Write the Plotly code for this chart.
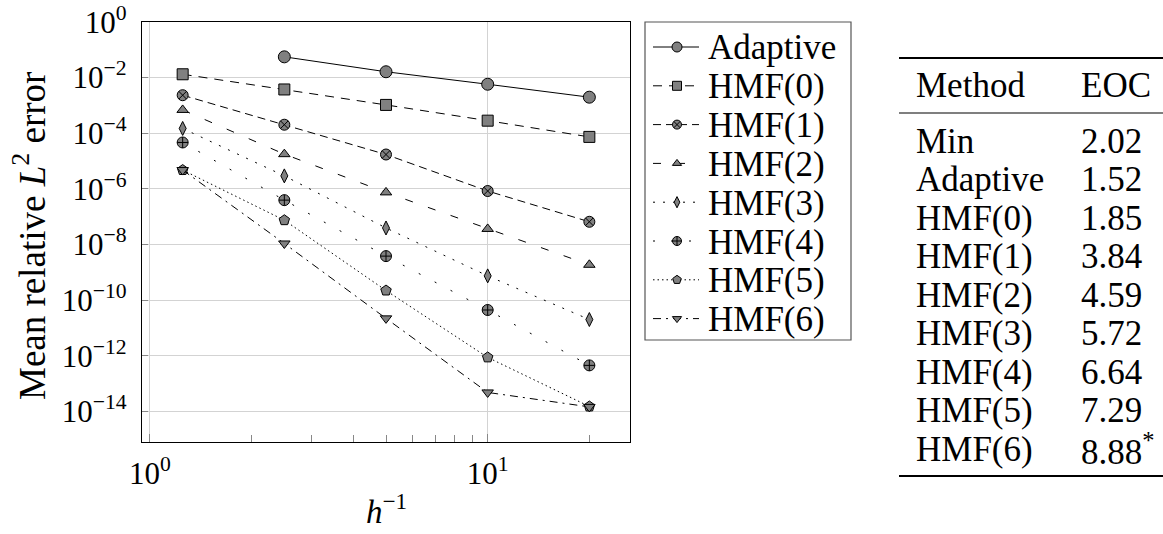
import plotly.graph_objects as go

# Inverse mesh width h^-1 and mean relative L2 errors per method
h_inv = [1.25, 2.5, 5, 10, 20]
adaptive = [None, 5.5e-2, 1.6e-2, 5.7e-3, 1.95e-3]
hmf0 = [1.3e-2, 3.7e-3, 1.03e-3, 2.8e-4, 7.3e-5]
hmf1 = [2.3e-3, 2.0e-4, 1.7e-5, 8.3e-7, 6.5e-8]
hmf2 = [6.8e-4, 1.75e-5, 7.4e-7, 3.6e-8, 1.85e-9]
hmf3 = [1.47e-4, 2.9e-6, 3.9e-8, 7.4e-10, 2.0e-11]
hmf4 = [4.6e-5, 3.9e-7, 3.8e-9, 4.4e-11, 4.5e-13]
hmf5 = [4.7e-6, 7.4e-8, 2.2e-10, 8.7e-13, 1.5e-14]
hmf6 = [4.7e-6, 1.08e-8, 2.2e-11, 4.8e-14, 1.45e-14]

# Experimental orders of convergence
eoc_methods = ["Min", "Adaptive", "HMF(0)", "HMF(1)", "HMF(2)", "HMF(3)",
               "HMF(4)", "HMF(5)", "HMF(6)"]
eoc_values = ["2.02", "1.52", "1.85", "3.84", "4.59", "5.72", "6.64", "7.29",
              "8.88<sup>*</sup>"]

W, H = 1163, 534
SERIF = "Liberation Serif, Times New Roman, serif"
FILL = "#808080"


def px(x):
    return x / W


def py(y):
    return 1 - y / H


series = [
    ("Adaptive", adaptive, "circle", 12, "solid"),
    ("HMF(0)", hmf0, "square", 11, "9px,7px"),
    ("HMF(1)", hmf1, "circle-x", 11, "8px,5px"),
    ("HMF(2)", hmf2, "triangle-up", 10, "8px,16px"),
    ("HMF(3)", hmf3, "diamond-tall", 10, "2px,8px"),
    ("HMF(4)", hmf4, "circle-cross", 11, "2px,16px"),
    ("HMF(5)", hmf5, "pentagon", 11, "1.5px,3px"),
    ("HMF(6)", hmf6, "triangle-down", 10, "8px,5px,2px,5px"),
]

fig = go.Figure()
for name, vals, sym, size, dash in series:
    fig.add_trace(go.Scatter(
        x=h_inv, y=vals, name=name, mode="lines+markers", showlegend=False,
        line=dict(color="black", width=1, dash=dash),
        marker=dict(symbol=sym, size=size, color=FILL,
                    line=dict(color="black", width=1)),
    ))

# Legend box drawn on its own pixel-scaled overlay axes
LEG_L, LEG_R, LEG_T, LEG_B = 645, 851, 22, 340
LEG_ROW0, LEG_STEP = 47, 38.8
LEG_LINE_X = [653, 677, 699]
for i, (name, vals, sym, size, dash) in enumerate(series):
    yi = LEG_ROW0 + i * LEG_STEP
    fig.add_trace(go.Scatter(
        x=[LEG_LINE_X[0], LEG_LINE_X[2]], y=[yi, yi], mode="lines",
        xaxis="x2", yaxis="y2", showlegend=False, hoverinfo="skip",
        line=dict(color="black", width=1, dash=dash),
    ))
    fig.add_trace(go.Scatter(
        x=[LEG_LINE_X[1]], y=[yi], mode="markers",
        xaxis="x2", yaxis="y2", showlegend=False, hoverinfo="skip",
        marker=dict(symbol=sym, size=size - 2, color=FILL,
                    line=dict(color="black", width=1)),
    ))
    fig.add_annotation(x=706, y=yi + 1, xref="x2", yref="y2", text=name,
                       showarrow=False, xanchor="left", yanchor="middle",
                       font=dict(family=SERIF, size=35))

fig.add_shape(type="rect", xref="paper", yref="paper",
              x0=px(LEG_L), x1=px(LEG_R), y0=py(LEG_B), y1=py(LEG_T),
              line=dict(color="#555", width=1.2), fillcolor="rgba(0,0,0,0)")

ytick_exp = [0, -2, -4, -6, -8, -10, -12, -14]
ytick_vals = [10.0 ** e for e in ytick_exp]
ytick_text = ["10<sup>%s</sup>" % (str(e).replace("-", "\u2212")) for e in ytick_exp]

AX_L, AX_R, AX_T, AX_B = 142, 630, 21.7, 442

fig.update_layout(
    width=W, height=H,
    margin=dict(l=0, r=0, t=0, b=0, autoexpand=False),
    paper_bgcolor="white", plot_bgcolor="white",
    font=dict(family=SERIF, color="black", size=30),
    showlegend=False,
    xaxis=dict(
        type="log", domain=[px(AX_L), px(AX_R)], automargin=False,
        range=[-0.0235, 1.4214],
        tickvals=[1, 10], ticktext=["10<sup>0</sup>", "10<sup>1</sup>"],
        ticks="inside", ticklen=8, tickcolor="#888", tickwidth=1,
        ticklabelstandoff=4,
        showgrid=True, gridcolor="#d3d3d3", gridwidth=1,
        showline=True, linecolor="black", linewidth=1.4, mirror=True,
        zeroline=False,
        minor=dict(tickmode="array", tickvals=[2, 3, 4, 5, 6, 7, 8, 9, 20],
                   ticks="inside", ticklen=7, tickcolor="#888", showgrid=False),
        tickfont=dict(family=SERIF, size=31),
    ),
    yaxis=dict(
        type="log", domain=[py(AX_B), py(AX_T)], automargin=False,
        range=[-15.1, 0.003],
        tickvals=ytick_vals, ticktext=ytick_text,
        ticks="inside", ticklen=6, tickcolor="#888", tickwidth=1,
        ticklabelstandoff=8,
        showgrid=True, gridcolor="#d3d3d3", gridwidth=1,
        showline=True, linecolor="black", linewidth=1.4, mirror=True,
        zeroline=False,
        tickfont=dict(family=SERIF, size=31),
    ),
    xaxis2=dict(domain=[px(LEG_L), px(LEG_R)], range=[LEG_L, LEG_R],
                visible=False, fixedrange=True),
    yaxis2=dict(domain=[py(LEG_B), py(LEG_T)], range=[LEG_B, LEG_T],
                visible=False, fixedrange=True),
)

# Axis titles
fig.add_annotation(x=px(386), y=py(509), xref="paper", yref="paper",
                   text="<i>h</i><sup>\u22121</sup>", showarrow=False,
                   xanchor="center", yanchor="middle",
                   font=dict(family=SERIF, size=33))
fig.add_annotation(x=px(30), y=py(236), xref="paper", yref="paper",
                   text="Mean relative <i>L</i><sup>2</sup> error", showarrow=False,
                   textangle=-90, xanchor="center", yanchor="middle",
                   font=dict(family=SERIF, size=37))

# EOC table: booktabs-style rules and text
rule_x0, rule_x1 = px(899), px(1163)
for y, w in [(58, 2), (113, 1.2), (476, 2.2)]:
    fig.add_shape(type="line", xref="paper", yref="paper",
                  x0=rule_x0, x1=rule_x1, y0=py(y), y1=py(y),
                  line=dict(color="black", width=w))

col_method, col_eoc = px(914), px(1079)
TABLE_FONT = dict(family=SERIF, size=35)
fig.add_annotation(x=col_method, y=py(86), xref="paper", yref="paper",
                   text="Method", showarrow=False, xanchor="left", yanchor="middle",
                   font=TABLE_FONT)
fig.add_annotation(x=col_eoc, y=py(86), xref="paper", yref="paper",
                   text="EOC", showarrow=False, xanchor="left", yanchor="middle",
                   font=TABLE_FONT)
row0, row_step = 141, 38.5
for i, (m, v) in enumerate(zip(eoc_methods, eoc_values)):
    yy = py(row0 + i * row_step)
    fig.add_annotation(x=col_method, y=yy, xref="paper", yref="paper",
                       text=m, showarrow=False, xanchor="left", yanchor="middle",
                       font=TABLE_FONT)
    fig.add_annotation(x=col_eoc, y=yy, xref="paper", yref="paper",
                       text=v, showarrow=False, xanchor="left", yanchor="middle",
                       font=TABLE_FONT)

fig.write_html("out.html")
